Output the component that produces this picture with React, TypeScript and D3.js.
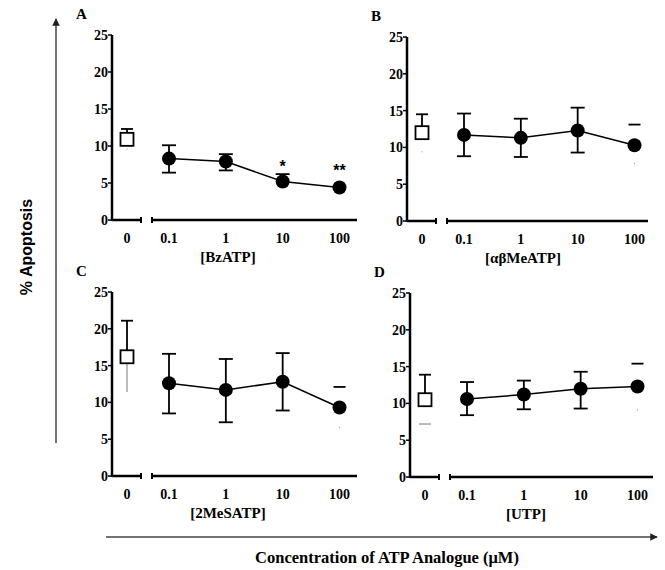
import React, { useEffect, useRef } from "react";
import * as d3 from "d3";

// doses on the log axis (uM)
const doses = [0.1, 1, 10, 100];
const doseLabels = ["0.1", "1", "10", "100"];
const yTicks = [0, 5, 10, 15, 20, 25];

const panelLetters = ["A", "B", "C", "D"];
const analogues = ["[BzATP]", "[\u03b1\u03b2MeATP]", "[2MeSATP]", "[UTP]"];

// control (0 uM) values, one per panel
const controlMean = [10.9, 12.0, 16.2, 10.5];
const controlUpper = [12.3, 14.5, 21.1, 13.9];
const controlLower = [9.6, 9.4, 11.4, 7.2];

// dose responses: mean, upper and lower error
const bzMean = [8.3, 7.9, 5.2, 4.4];
const bzUpper = [10.1, 8.9, 6.2, 4.4];
const bzLower = [6.4, 6.7, 5.2, 4.4];

const abMean = [11.7, 11.3, 12.3, 10.3];
const abUpper = [14.6, 13.9, 15.4, 13.1];
const abLower = [8.8, 8.7, 9.3, 7.8];

const msMean = [12.6, 11.7, 12.8, 9.3];
const msUpper = [16.6, 15.9, 16.7, 12.1];
const msLower = [8.5, 7.3, 8.9, 6.6];

const utpMean = [10.6, 11.2, 12.0, 12.3];
const utpUpper = [12.9, 13.1, 14.3, 15.4];
const utpLower = [8.4, 9.2, 9.3, 9.1];

const bzStars = ["", "", "*", "**"];

const seriesMean = [bzMean, abMean, msMean, utpMean];
const seriesUpper = [bzUpper, abUpper, msUpper, utpUpper];
const seriesLower = [bzLower, abLower, msLower, utpLower];

const SERIF = "'Liberation Serif', 'Times New Roman', serif";
const SANS = "'Liberation Sans', Arial, sans-serif";

// layout of each panel: y-axis position, pixel of 0 and 25
const layout = [
    { x: 112, y0: 220, y25: 35, rightEnd: 245 },
    { x: 407, y0: 221, y25: 37, rightEnd: 241 },
    { x: 112, y0: 476, y25: 292, rightEnd: 245 },
    { x: 410, y0: 477, y25: 293, rightEnd: 243 },
];
// how the odd error ends are drawn
const controlLowStyle = ["dot", "dot", "line", "dash"];
const lastDetached = [false, true, true, true];

const App = () => {
    const svgRef = useRef(null);

    useEffect(() => {
        const svg = d3.select(svgRef.current);
        svg.selectAll("*").remove();

        const defs = svg.append("defs");
        defs.append("marker")
            .attr("id", "arrow")
            .attr("viewBox", "0 0 10 10")
            .attr("refX", 9)
            .attr("refY", 5)
            .attr("markerWidth", 5)
            .attr("markerHeight", 5)
            .attr("orient", "auto")
            .append("path")
            .attr("d", "M0,0 L10,5 L0,10 z")
            .attr("fill", "#222");

        // big outer arrows
        svg.append("line")
            .attr("x1", 56).attr("y1", 443).attr("x2", 56).attr("y2", 19)
            .attr("stroke", "#444").attr("stroke-width", 1.5)
            .attr("marker-end", "url(#arrow)");
        svg.append("line")
            .attr("x1", 106).attr("y1", 537).attr("x2", 657).attr("y2", 537)
            .attr("stroke", "#444").attr("stroke-width", 1.5)
            .attr("marker-end", "url(#arrow)");

        svg.append("text")
            .attr("transform", "translate(32,247) rotate(-90)")
            .attr("text-anchor", "middle")
            .style("font-family", SANS)
            .style("font-weight", "bold")
            .style("font-size", "16px")
            .text("% Apoptosis");

        svg.append("text")
            .attr("x", 387).attr("y", 563)
            .attr("text-anchor", "middle")
            .style("font-family", SERIF)
            .style("font-weight", "bold")
            .style("font-size", "16.5px")
            .text("Concentration of ATP Analogue (\u03bcM)");

        layout.forEach((p, i) => {
            const g = svg.append("g");
            const y = d3.scaleLinear().domain([0, 25]).range([p.y0, p.y25]);
            const x = d3.scaleLog().domain([0.1, 100]).range([p.x + 57, p.x + 227.5]);
            const xCtrl = p.x + 15;

            g.append("text")
                .attr("x", p.x - 36).attr("y", p.y25 - 16)
                .style("font-family", SERIF)
                .style("font-weight", "bold")
                .style("font-size", "15px")
                .text(panelLetters[i]);

            // y axis
            g.append("line")
                .attr("x1", p.x).attr("x2", p.x)
                .attr("y1", y(0) + 1).attr("y2", y(25))
                .attr("stroke", "#000").attr("stroke-width", 2.5);
            yTicks.forEach(t => {
                g.append("line")
                    .attr("x1", p.x - 4).attr("x2", p.x)
                    .attr("y1", y(t)).attr("y2", y(t))
                    .attr("stroke", "#000").attr("stroke-width", 1.5);
                g.append("text")
                    .attr("x", p.x - 4).attr("y", y(t) + 5)
                    .attr("text-anchor", "end")
                    .style("font-family", SERIF)
                    .style("font-weight", "bold")
                    .style("font-size", "14px")
                    .text(t);
            });

            // broken x axis
            const segs = [[p.x, p.x + 29], [p.x + 40, p.x + p.rightEnd]];
            segs.forEach(([a, b]) => {
                g.append("line")
                    .attr("x1", a).attr("x2", b)
                    .attr("y1", y(0)).attr("y2", y(0))
                    .attr("stroke", "#000").attr("stroke-width", 2.5);
            });
            [p.x + 29, p.x + 40].forEach(xx => {
                g.append("line")
                    .attr("x1", xx).attr("x2", xx)
                    .attr("y1", y(0) - 3).attr("y2", y(0) + 3)
                    .attr("stroke", "#000").attr("stroke-width", 2);
            });

            const tickY = y(0) + 23;
            g.append("text")
                .attr("x", xCtrl).attr("y", tickY)
                .attr("text-anchor", "middle")
                .style("font-family", SERIF).style("font-weight", "bold").style("font-size", "14px")
                .text("0");
            doses.forEach((d, j) => {
                g.append("text")
                    .attr("x", x(d)).attr("y", tickY)
                    .attr("text-anchor", "middle")
                    .style("font-family", SERIF).style("font-weight", "bold").style("font-size", "14px")
                    .text(doseLabels[j]);
            });
            g.append("text")
                .attr("x", p.x + 116).attr("y", y(0) + 42)
                .attr("text-anchor", "middle")
                .style("font-family", SERIF).style("font-weight", "bold").style("font-size", "15px")
                .text(analogues[i]);

            // control: error bar + open square
            const cm = controlMean[i];
            g.append("line")
                .attr("x1", xCtrl).attr("x2", xCtrl)
                .attr("y1", y(cm)).attr("y2", y(controlUpper[i]))
                .attr("stroke", "#000").attr("stroke-width", 1.8);
            g.append("line")
                .attr("x1", xCtrl - 6).attr("x2", xCtrl + 6)
                .attr("y1", y(controlUpper[i])).attr("y2", y(controlUpper[i]))
                .attr("stroke", "#000").attr("stroke-width", 1.8);
            const low = controlLowStyle[i];
            if (low === "line") {
                g.append("line")
                    .attr("x1", xCtrl).attr("x2", xCtrl)
                    .attr("y1", y(cm)).attr("y2", y(controlLower[i]))
                    .attr("stroke", "#777").attr("stroke-width", 1);
            } else if (low === "dash") {
                g.append("line")
                    .attr("x1", xCtrl - 6).attr("x2", xCtrl + 6)
                    .attr("y1", y(controlLower[i])).attr("y2", y(controlLower[i]))
                    .attr("stroke", "#777").attr("stroke-width", 1);
            } else {
                g.append("rect")
                    .attr("x", xCtrl - 0.5).attr("y", y(controlLower[i]) - 0.5)
                    .attr("width", 1).attr("height", 1)
                    .attr("fill", "#999");
            }
            g.append("rect")
                .attr("x", xCtrl - 6.5).attr("y", y(cm) - 6.5)
                .attr("width", 13).attr("height", 13)
                .attr("fill", "#fff").attr("stroke", "#000").attr("stroke-width", 1.8);

            // dose series
            const mean = seriesMean[i];
            const up = seriesUpper[i];
            const lo = seriesLower[i];
            doses.forEach((d, j) => {
                const cx = x(d);
                const detached = lastDetached[i] && j === doses.length - 1;
                if (detached) {
                    g.append("line")
                        .attr("x1", cx - 6).attr("x2", cx + 6)
                        .attr("y1", y(up[j])).attr("y2", y(up[j]))
                        .attr("stroke", "#000").attr("stroke-width", 1.8);
                    g.append("rect")
                        .attr("x", cx - 0.5).attr("y", y(lo[j]) - 0.5)
                        .attr("width", 1).attr("height", 1)
                        .attr("fill", "#999");
                    return;
                }
                g.append("line")
                    .attr("x1", cx).attr("x2", cx)
                    .attr("y1", y(lo[j])).attr("y2", y(up[j]))
                    .attr("stroke", "#000").attr("stroke-width", 1.8);
                [up[j], lo[j]].forEach(v => {
                    if (Math.abs(v - mean[j]) < 0.5) return;
                    g.append("line")
                        .attr("x1", cx - 7).attr("x2", cx + 7)
                        .attr("y1", y(v)).attr("y2", y(v))
                        .attr("stroke", "#000").attr("stroke-width", 1.8);
                });
            });

            const line = d3.line().x((d, j) => x(doses[j])).y(d => y(d));
            g.append("path")
                .attr("d", line(mean))
                .attr("fill", "none")
                .attr("stroke", "#000")
                .attr("stroke-width", 1.5);

            doses.forEach((d, j) => {
                g.append("circle")
                    .attr("cx", x(d)).attr("cy", y(mean[j]))
                    .attr("r", 7)
                    .attr("fill", "#000");
            });

            if (i === 0) {
                doses.forEach((d, j) => {
                    if (!bzStars[j]) return;
                    g.append("text")
                        .attr("x", x(d)).attr("y", y(up[j] > mean[j] ? up[j] : mean[j] + 1.3) - 2)
                        .attr("text-anchor", "middle")
                        .style("font-family", SANS)
                        .style("font-weight", "bold")
                        .style("font-size", "16px")
                        .text(bzStars[j]);
                });
            }
        });
    }, []);

    return (
        <svg
            ref={svgRef}
            width={665}
            height={570}
            style={{ position: "absolute", left: 0, top: 0, background: "#fff" }}
        />
    );
};

export default App;
